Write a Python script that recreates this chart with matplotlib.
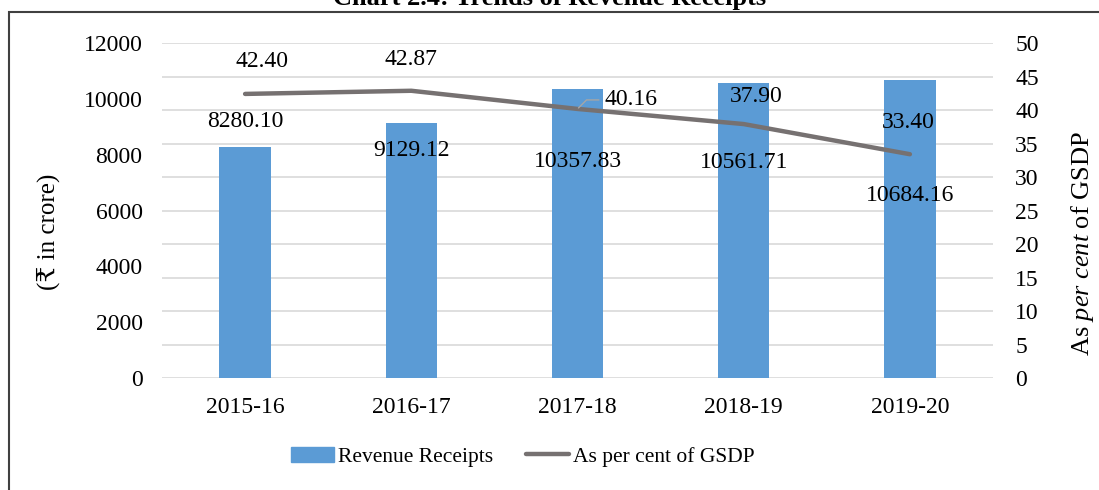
import matplotlib.pyplot as plt
from matplotlib.patches import Rectangle
from matplotlib.lines import Line2D

years = ['2015-16', '2016-17', '2017-18', '2018-19', '2019-20']
revenue = [8280.10, 9129.12, 10357.83, 10561.71, 10684.16]
pct_gsdp = [42.40, 42.87, 40.16, 37.90, 33.40]

plt.rcParams['font.family'] = ['Liberation Serif', 'DejaVu Serif', 'DejaVu Sans']
plt.rcParams['mathtext.fontset'] = 'custom'
plt.rcParams['mathtext.rm'] = 'Liberation Serif'
plt.rcParams['mathtext.it'] = 'Liberation Serif:italic'

bar_col = '#5B9BD5'
line_col = '#767171'
fs = 17

fig = plt.figure(figsize=(10.99, 4.9), dpi=100)
ax = fig.add_axes([162 / 1099, 1 - 378 / 490, 831 / 1099, 335 / 490])
ax2 = ax.twinx()

x = range(len(years))
ax.bar(x, revenue, width=0.31, color=bar_col, zorder=2)
ax.set_xlim(-0.5, len(years) - 0.5)
ax.set_ylim(0, 12000)
ax.set_yticks(range(0, 12001, 2000))
ax.set_yticks([i * 1200 for i in range(11)], minor=True)
ax.yaxis.remove_overlapping_locs = False
ax.grid(True, which='minor', axis='y', color='#D9D9D9', lw=1.2)
ax.set_axisbelow(True)
ax.set_xticks(list(x))
ax.set_xticklabels(years)
ax.tick_params(axis='both', which='both', length=0, labelsize=fs)
ax.tick_params(axis='y', pad=14)
ax.tick_params(axis='x', pad=14)

ax2.plot(list(x), pct_gsdp, color=line_col, lw=3.2, solid_capstyle='round', zorder=3)
ax2.set_ylim(0, 50)
ax2.set_yticks(range(0, 51, 5))
ax2.tick_params(axis='y', length=0, labelsize=fs, pad=16)

for a in (ax, ax2):
    for s in a.spines.values():
        s.set_visible(False)

# bar labels
bar_off = [25, -27, -73, -79, -116]
for i, v in enumerate(revenue):
    ax.annotate(f'{v:.2f}', (i, v), xytext=(0, bar_off[i]), textcoords='offset pixels',
                ha='center', va='center', fontsize=fs, zorder=5)

# line labels
line_off = [(17, 32), (0, 31), (27, 9), (13, 28), (-2, 32)]
for i, v in enumerate(pct_gsdp):
    if i == 2:
        ax2.annotate(f'{v:.2f}', (i, v), xytext=line_off[i], textcoords='offset pixels',
                     ha='left', va='center', fontsize=fs,
                     arrowprops=dict(arrowstyle='-', color='#A6A6A6', lw=1,
                                     shrinkA=2, shrinkB=1,
                                     connectionstyle='angle,angleA=0,angleB=45,rad=0'))
    else:
        ax2.annotate(f'{v:.2f}', (i, v), xytext=line_off[i], textcoords='offset pixels',
                     ha='center', va='center', fontsize=fs)

fig.text(48 / 1099, 1 - 232 / 490, '(₹ in crore)', rotation=90, ha='center', va='center', fontsize=18)
fig.text(1083 / 1099, 1 - 244 / 490, r'As $\it{per\ cent}$ of GSDP', rotation=90,
         ha='center', va='center', fontsize=19)

fig.text(0.5, 1 - 5 / 490, 'Chart 2.4: Trends of Revenue Receipts', ha='center', va='baseline',
         fontsize=19, fontweight='bold')

handles = [Rectangle((0, 0), 1, 1, color=bar_col),
           Line2D([0], [0], color=line_col, lw=3.2, solid_capstyle='round')]
fig.legend(handles, ['Revenue Receipts', 'As per cent of GSDP'], loc='center',
           bbox_to_anchor=(523 / 1099, 1 - 457 / 490), ncol=2, frameon=False,
           fontsize=15.5, handlelength=2.0, handletextpad=0.2, columnspacing=1.5)

fig.add_artist(Rectangle((9 / 1099, -0.05), 1.1, 1 - 12 / 490 + 0.05, transform=fig.transFigure,
                         fill=False, edgecolor='#404040', lw=1.5))

fig.savefig('out.png', dpi=100)
